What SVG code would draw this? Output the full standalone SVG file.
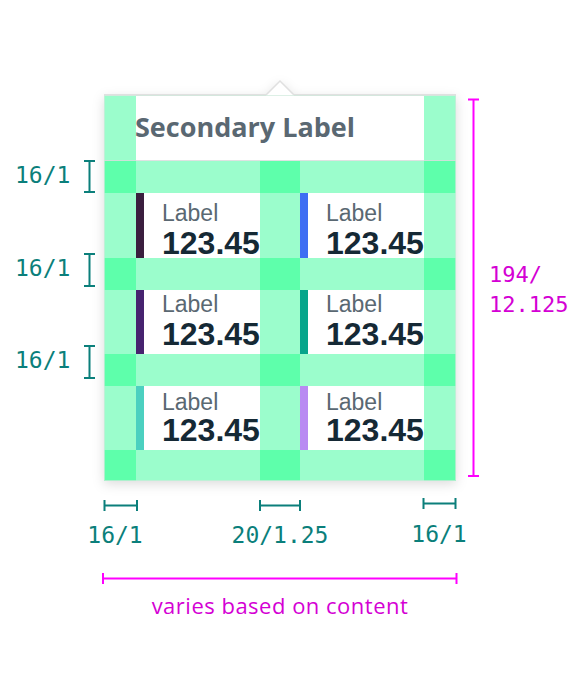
<svg xmlns="http://www.w3.org/2000/svg" width="580" height="682" viewBox="0 0 580 682">
  <defs>
    <filter id="shadow" x="-20%" y="-20%" width="140%" height="140%">
      <feDropShadow dx="0" dy="3" stdDeviation="6" flood-color="#000" flood-opacity="0.14"/>
    </filter>
    <style>
      .lt { fill: #9bfdcc; }
      .dk { fill: #5effab; }
      .hdr { font-family: "Open Sans", "Liberation Sans", sans-serif; font-weight: 700; font-size: 27px; fill: #5a6872; }
      .lbl { font-family: "Liberation Sans", Arial, sans-serif; font-size: 23px; fill: #5a6872; }
      .num { font-family: "Liberation Sans", Arial, sans-serif; font-weight: 700; font-size: 32px; fill: #152935; }
      .tm { font-family: "DejaVu Sans Mono", "Liberation Mono", monospace; font-size: 23px; fill: #0b7f7b; }
      .mm { font-family: "DejaVu Sans Mono", "Liberation Mono", monospace; font-size: 22px; fill: #d400d4; }
      .ms { font-family: "Open Sans", "Liberation Sans", sans-serif; font-size: 22px; fill: #d400d4; letter-spacing: 0.5px; }
      .teal { stroke: #0b7f7b; stroke-width: 2; fill: none; }
      .mag { stroke: #ff00ff; stroke-width: 2; fill: none; }
    </style>
  </defs>

  <g id="card">
    <g filter="url(#shadow)">
      <rect x="104" y="95" width="352" height="386" fill="#ffffff"/>
      <polygon points="266,95 280,81 294,95" fill="#ffffff"/>
    </g>
    <polyline points="266,95 280,81 294,95" fill="none" stroke="#e0e0e0" stroke-width="1.5"/>
    <line x1="104" y1="95" x2="266" y2="95" stroke="#e0e0e0" stroke-width="2"/>
    <line x1="294" y1="95" x2="456" y2="95" stroke="#e0e0e0" stroke-width="2"/>

    <!-- columns -->
    <rect class="lt" x="104" y="96" width="32" height="385"/>
    <rect class="lt" x="260" y="161" width="40" height="320"/>
    <rect class="lt" x="424" y="96" width="32" height="385"/>
    <!-- bands -->
    <rect class="lt" x="104" y="161" width="352" height="32"/>
    <rect class="lt" x="104" y="258" width="352" height="32"/>
    <rect class="lt" x="104" y="354" width="352" height="32"/>
    <rect class="lt" x="104" y="450" width="352" height="31"/>
    <!-- intersections -->
    <rect class="dk" x="104" y="161" width="32" height="32"/>
    <rect class="dk" x="260" y="161" width="40" height="32"/>
    <rect class="dk" x="424" y="161" width="32" height="32"/>
    <rect class="dk" x="104" y="258" width="32" height="32"/>
    <rect class="dk" x="260" y="258" width="40" height="32"/>
    <rect class="dk" x="424" y="258" width="32" height="32"/>
    <rect class="dk" x="104" y="354" width="32" height="32"/>
    <rect class="dk" x="260" y="354" width="40" height="32"/>
    <rect class="dk" x="424" y="354" width="32" height="32"/>
    <rect class="dk" x="104" y="450" width="32" height="31"/>
    <rect class="dk" x="260" y="450" width="40" height="31"/>
    <rect class="dk" x="424" y="450" width="32" height="31"/>
    <line x1="104" y1="160.5" x2="456" y2="160.5" stroke="#d8dcdc" stroke-width="1" opacity="0.8"/>
    <rect x="104.5" y="95.5" width="351" height="385" fill="none" stroke="#cfe9dc" stroke-width="1" opacity="0.7"/>

    <text class="hdr" x="135" y="137">Secondary Label</text>
  </g>

  <g id="item-1">
    <rect x="136" y="193" width="8" height="65" fill="#3a1e3e"/>
    <text class="lbl" x="162" y="221">Label</text>
    <text class="num" x="162" y="254">123.45</text>
  </g>
  <g id="item-2">
    <rect x="300" y="193" width="8" height="65" fill="#3f6ef3"/>
    <text class="lbl" x="326" y="221">Label</text>
    <text class="num" x="326" y="254">123.45</text>
  </g>
  <g id="item-3">
    <rect x="136" y="290" width="8" height="64" fill="#47236f"/>
    <text class="lbl" x="162" y="311.5">Label</text>
    <text class="num" x="162" y="344.5">123.45</text>
  </g>
  <g id="item-4">
    <rect x="300" y="290" width="8" height="64" fill="#07a58b"/>
    <text class="lbl" x="326" y="311.5">Label</text>
    <text class="num" x="326" y="344.5">123.45</text>
  </g>
  <g id="item-5">
    <rect x="136" y="386" width="8" height="64" fill="#4cd0c0"/>
    <text class="lbl" x="162" y="409.5">Label</text>
    <text class="num" x="162" y="441">123.45</text>
  </g>
  <g id="item-6">
    <rect x="300" y="386" width="8" height="64" fill="#b98af2"/>
    <text class="lbl" x="326" y="409.5">Label</text>
    <text class="num" x="326" y="441">123.45</text>
  </g>

  <g id="connectors">
    <!-- left vertical spacing markers -->
    <path class="teal" d="M84,161 H95 M89.5,161 V192 M84,192 H95"/>
    <path class="teal" d="M84,254 H95 M89.5,254 V286 M84,286 H95"/>
    <path class="teal" d="M84,346 H95 M89.5,346 V378 M84,378 H95"/>
    <!-- bottom horizontal spacing markers -->
    <path class="teal" d="M104.5,500 V511 M104.5,505.5 H137 M137,500 V511"/>
    <path class="teal" d="M260,500 V511 M260,505.5 H300 M300,500 V511"/>
    <path class="teal" d="M423.5,498 V509 M423.5,503.5 H455.5 M455.5,498 V509"/>
    <!-- magenta dimension lines -->
    <path class="mag" d="M468,99.5 H479 M473.5,99.5 V476 M468,476 H479"/>
    <path class="mag" d="M103,573 V584 M103,578.5 H456.5 M456.5,573 V584"/>
  </g>

  <g id="annotations">
    <text class="tm" x="15" y="183">16/1</text>
    <text class="tm" x="15" y="276">16/1</text>
    <text class="tm" x="15" y="368">16/1</text>
    <text class="tm" x="115" y="543" text-anchor="middle">16/1</text>
    <text class="tm" x="280" y="543" text-anchor="middle">20/1.25</text>
    <text class="tm" x="439" y="541.5" text-anchor="middle">16/1</text>
    <text class="mm" x="489" y="282">194/</text>
    <text class="mm" x="489" y="312">12.125</text>
    <text class="ms" x="280" y="614" text-anchor="middle">varies based on content</text>
  </g>
</svg>
